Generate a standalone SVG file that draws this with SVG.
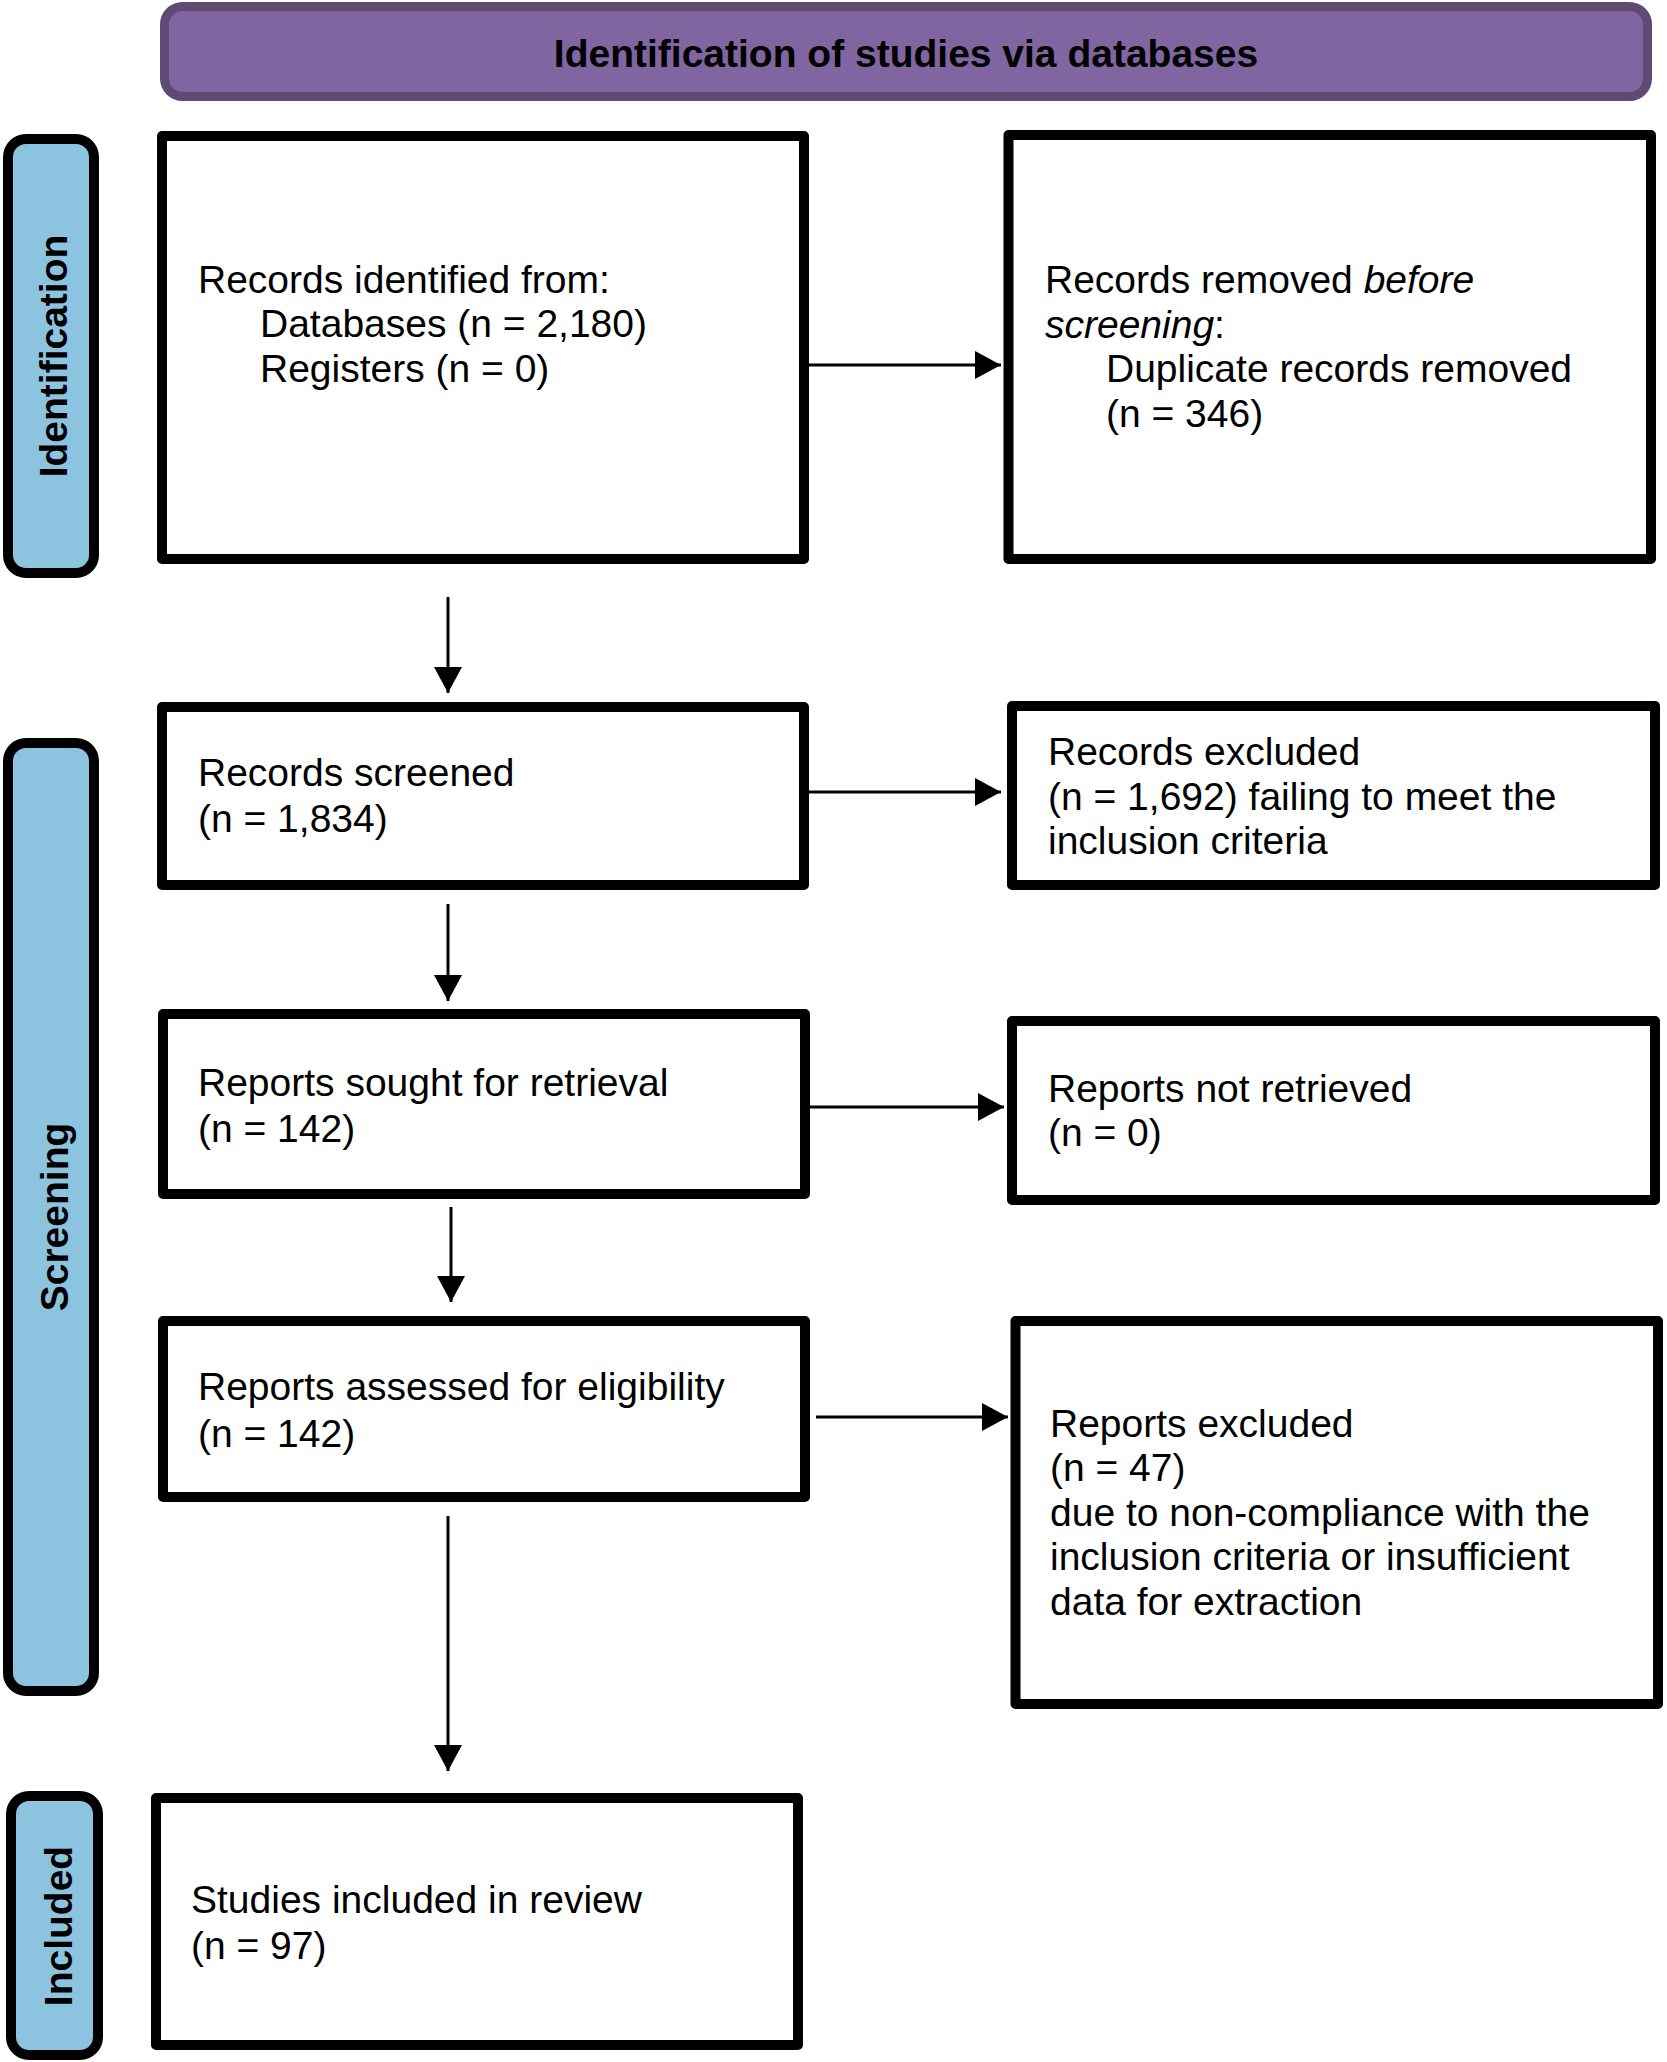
<svg xmlns="http://www.w3.org/2000/svg" width="1667" height="2062" viewBox="0 0 1667 2062">
<style>
.box{fill:#ffffff;stroke:#000000;stroke-width:10;stroke-linejoin:round}
.side{fill:#8cc3de;stroke:#000000;stroke-width:10}
.hdr{fill:#8065a0;stroke:#5f4a74;stroke-width:9}
.t{font-family:"Liberation Sans",Arial,sans-serif;font-size:39px;fill:#000000}
.b{font-family:"Liberation Sans",Arial,sans-serif;font-size:39px;font-weight:bold;fill:#000000}
.c{fill:none;stroke:#000000;stroke-width:3}
</style>
<defs>
<marker id="ah" markerUnits="userSpaceOnUse" markerWidth="27" markerHeight="28" refX="26" refY="14" orient="auto">
<path d="M0,0 L26,14 L0,28 z" fill="#000000"/>
</marker>
</defs>
<rect width="1667" height="2062" fill="#ffffff"/>

<g id="header">
<rect class="hdr" x="164.5" y="6.5" width="1483" height="90" rx="18"/>
<text class="b" x="906" y="67" text-anchor="middle">Identification of studies via databases</text>
</g>

<g id="label-identification">
<rect class="side" x="8" y="139" width="86" height="434" rx="18"/>
<text class="b" transform="translate(67,356) rotate(-90)" text-anchor="middle">Identification</text>
</g>
<g id="label-screening">
<rect class="side" x="8" y="743" width="86" height="948" rx="18"/>
<text class="b" transform="translate(68,1217) rotate(-90)" text-anchor="middle">Screening</text>
</g>
<g id="label-included">
<rect class="side" x="11" y="1796" width="87" height="259" rx="18"/>
<text class="b" transform="translate(72,1926) rotate(-90)" text-anchor="middle">Included</text>
</g>

<g id="connectors">
<line class="c" x1="448" y1="597" x2="448" y2="693" marker-end="url(#ah)"/>
<line class="c" x1="809" y1="365" x2="1001" y2="365" marker-end="url(#ah)"/>
<line class="c" x1="809" y1="792" x2="1001" y2="792" marker-end="url(#ah)"/>
<line class="c" x1="448" y1="904" x2="448" y2="1001" marker-end="url(#ah)"/>
<line class="c" x1="810" y1="1107" x2="1004" y2="1107" marker-end="url(#ah)"/>
<line class="c" x1="451" y1="1207" x2="451" y2="1302" marker-end="url(#ah)"/>
<line class="c" x1="816" y1="1417" x2="1008" y2="1417" marker-end="url(#ah)"/>
<line class="c" x1="448" y1="1516" x2="448" y2="1771" marker-end="url(#ah)"/>
</g>

<g id="records-identified">
<rect class="box" x="162" y="136" width="642" height="423"/>
<text class="t" x="198" y="293">Records identified from:</text>
<text class="t" x="260" y="337">Databases (n = 2,180)</text>
<text class="t" x="260" y="382">Registers (n = 0)</text>
</g>

<g id="records-removed">
<rect class="box" x="1008.5" y="135" width="642.5" height="424"/>
<text class="t" x="1045" y="293">Records removed <tspan font-style="italic">before</tspan></text>
<text class="t" x="1045" y="337.5"><tspan font-style="italic">screening</tspan>:</text>
<text class="t" x="1106" y="382">Duplicate records removed</text>
<text class="t" x="1106" y="426.5">(n = 346)</text>
</g>

<g id="records-screened">
<rect class="box" x="162" y="707" width="642" height="178"/>
<text class="t" x="198" y="786">Records screened</text>
<text class="t" x="198" y="832">(n = 1,834)</text>
</g>

<g id="records-excluded">
<rect class="box" x="1012" y="706" width="643" height="179"/>
<text class="t" x="1048" y="765">Records excluded</text>
<text class="t" x="1048" y="809.5">(n = 1,692) failing to meet the</text>
<text class="t" x="1048" y="854">inclusion criteria</text>
</g>

<g id="reports-sought">
<rect class="box" x="163" y="1014" width="642" height="180"/>
<text class="t" x="198" y="1096">Reports sought for retrieval</text>
<text class="t" x="198" y="1142">(n = 142)</text>
</g>

<g id="reports-not-retrieved">
<rect class="box" x="1012" y="1021" width="643" height="179"/>
<text class="t" x="1048" y="1102">Reports not retrieved</text>
<text class="t" x="1048" y="1146">(n = 0)</text>
</g>

<g id="reports-assessed">
<rect class="box" x="163" y="1321" width="642" height="176"/>
<text class="t" x="198" y="1400">Reports assessed for eligibility</text>
<text class="t" x="198" y="1447">(n = 142)</text>
</g>

<g id="reports-excluded">
<rect class="box" x="1015.5" y="1321" width="642.5" height="383"/>
<text class="t" x="1050" y="1437">Reports excluded</text>
<text class="t" x="1050" y="1481">(n = 47)</text>
<text class="t" x="1050" y="1526">due to non-compliance with the</text>
<text class="t" x="1050" y="1570">inclusion criteria or insufficient</text>
<text class="t" x="1050" y="1615">data for extraction</text>
</g>

<g id="studies-included">
<rect class="box" x="156" y="1798" width="642" height="247"/>
<text class="t" x="191" y="1913">Studies included in review</text>
<text class="t" x="191" y="1959">(n = 97)</text>
</g>
</svg>
